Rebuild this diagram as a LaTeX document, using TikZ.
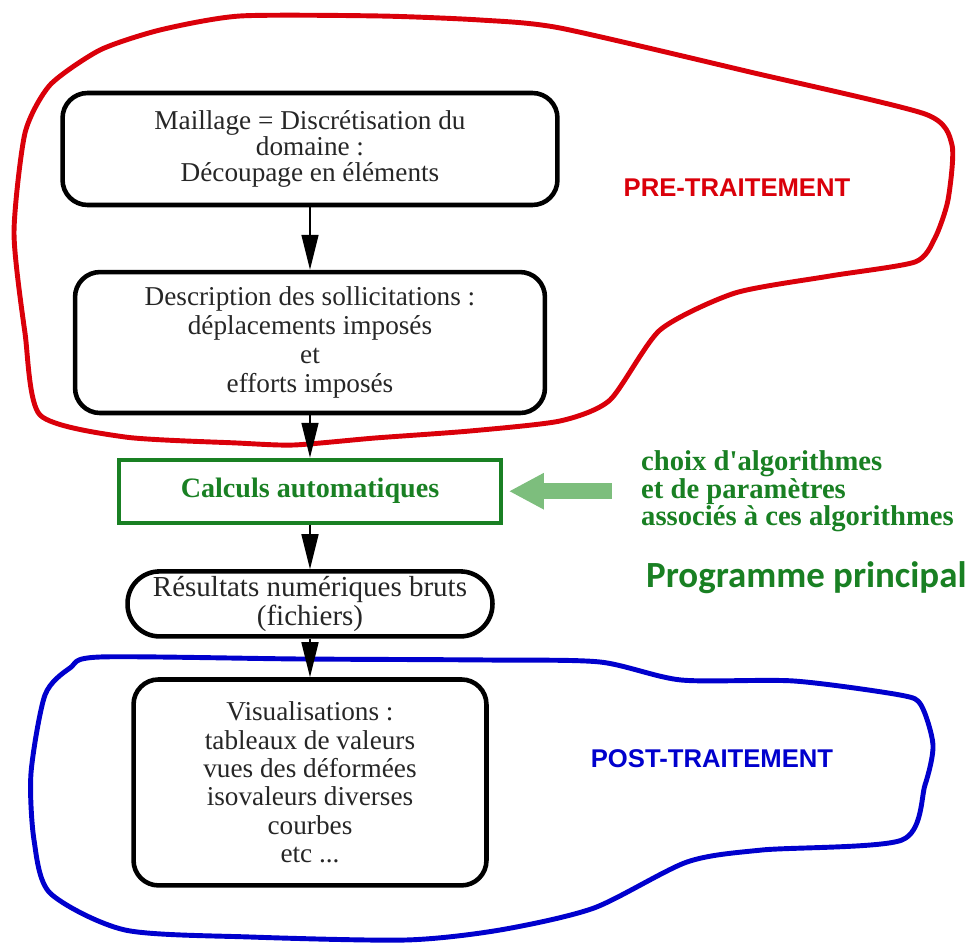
\documentclass[tikz,border=0pt]{standalone}
\usepackage{fontspec}
\setmainfont{Liberation Serif}
\newfontfamily\arialfont{Liberation Sans}
\newfontfamily\calibrifont{Carlito}
\usetikzlibrary{arrows.meta,positioning}
\definecolor{zonered}{RGB}{218,0,10}
\definecolor{zoneblue}{RGB}{0,0,205}
\definecolor{calcgreen}{RGB}{25,128,35}
\definecolor{paleGreen}{RGB}{125,190,125}
\begin{document}
\begin{tikzpicture}[
    x=0.02cm, y=-0.02cm,
    node distance=0mm,
    stage/.style={draw, line width=2.6pt, rounded corners=0.5cm, align=center, text=black!85, font=\fontsize{15.5}{16.5}\selectfont, inner sep=0pt},
    calcbox/.style={draw=calcgreen, line width=2.2pt, text=calcgreen, font=\bfseries\fontsize{16}{18}\selectfont, minimum width=7.64cm, minimum height=1.26cm},
    flow/.style={-{Triangle[length=7mm,width=3.4mm]}, line width=0.9pt},
    zone/.style={line width=2.8pt, line join=round},
    zonelabel/.style={font=\arialfont\bfseries\fontsize{14.6}{16}\selectfont},
    algtext/.style={text=calcgreen, font=\bfseries\fontsize{16.3}{14.5}\selectfont, align=left, inner sep=0pt}
]
\useasboundingbox (0,0) rectangle (968,949);

% zones
\draw[zone, zonered] plot[smooth cycle, tension=0.4] coordinates {
  (25,133) (50,85) (100,50) (160,30) (240,16) (380,16) (480,20) (560,28)
  (750,72) (925,114) (952,145) (948,200) (935,238) (915,262) (830,276)
  (735,293) (660,330) (610,400) (560,421) (470,431) (375,438) (294,445)
  (237,443) (125,437) (40,415) (25,333) (14,233)};
\draw[zone, zoneblue] plot[smooth cycle, tension=0.45] coordinates {
  (100,657) (300,659) (487,660) (600,662) (681,680) (794,681) (900,695)
  (921,705) (933,745) (925,785) (902,840) (762,850) (687,862) (594,908)
  (500,930) (406,940) (250,937) (125,930) (50,893) (34,840) (31,773)
  (45,695) (70,668)};

% stages
\node[stage, minimum width=9.9cm, minimum height=2.24cm, font=\fontsize{15.5}{15}\selectfont] (mesh) at (310,149) {Maillage = Discrétisation du\\domaine :\\Découpage en éléments};
\node[stage, minimum width=9.4cm, minimum height=2.82cm, below=1.25cm of mesh] (loads) {Description des sollicitations :\\déplacements imposés\\et\\efforts imposés};
\node[calcbox, below=0.85cm of loads] (calc) {Calculs automatiques};
\node[stage, rounded corners=0.64cm, minimum width=7.3cm, minimum height=1.3cm, below=0.89cm of calc, font=\fontsize{16.5}{13}\selectfont] (raw) {Résultats numériques bruts\\(fichiers)};
\node[stage, minimum width=7.06cm, minimum height=4.12cm, below=0.77cm of raw, font=\fontsize{15.5}{16.2}\selectfont] (vis) {Visualisations :\\tableaux de valeurs\\vues des déformées\\isovaleurs diverses\\courbes\\etc ...};

\foreach \a/\b in {mesh/loads, loads/calc, calc/raw, raw/vis}
  \draw[flow] (\a.south) -- (\b.north);

% labels
\node[zonelabel, text=zonered] (pre) at (737,188) {PRE-TRAITEMENT};
\node[zonelabel, text=zoneblue] (post) at (712,759) {POST-TRAITEMENT};

\node[algtext, right=2.76cm of calc] (algo) {choix d\textquotesingle algorithmes\\et de paramètres\\associés à ces algorithmes};
\coordinate (algoin) at ([xshift=-0.58cm]algo.west);
\draw[paleGreen, line width=0.32cm, -{Triangle[length=0.7cm,width=0.68cm]}, shorten >=0.12cm] (algoin) -- (calc.east);

\node[anchor=west, text=calcgreen, font=\calibrifont\bfseries\fontsize{21}{24}\selectfont] (prog) at (640,578) {Programme principal};
\end{tikzpicture}
\end{document}
